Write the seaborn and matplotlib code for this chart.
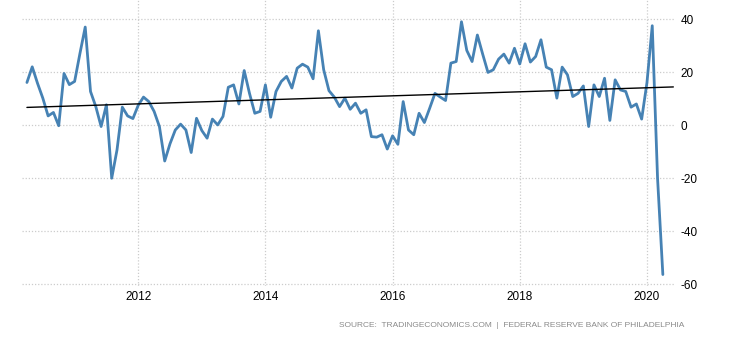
import numpy as np
import pandas as pd
import matplotlib
matplotlib.use("Agg")
import matplotlib.pyplot as plt
import seaborn as sns

# Philadelphia Fed manufacturing index, monthly, Apr 2010 - Apr 2020
start_month = "2010-04-01"
values = [
    16.1, 22.0, 15.8, 10.2, 3.5, 4.8, -0.2, 19.5, 15.3,            # 2010 Apr-Dec
    16.5, 27.0, 37.0, 12.7, 7.0, -0.5, 7.7, -20.0, -9.3, 6.8, 3.5, 2.5,   # 2011
    7.5, 10.6, 8.9, 5.2, -0.5, -13.5, -7.0, -1.8, 0.4, -1.8, -10.3, 2.6,  # 2012
    -2.0, -4.9, 2.3, 0.1, 3.3, 14.3, 15.2, 8.0, 20.6, 12.0, 4.5, 5.2,     # 2013
    15.2, 3.0, 12.7, 16.5, 18.4, 14.0, 21.5, 23.0, 21.9, 17.5, 35.6, 20.9, # 2014
    13.0, 10.6, 7.0, 10.2, 6.0, 8.3, 4.5, 5.8, -4.3, -4.5, -3.6, -9.0,    # 2015
    -4.0, -7.2, 8.9, -1.8, -3.6, 4.5, 1.0, 6.4, 12.0, 10.6, 9.3, 23.4,    # 2016
    24.0, 39.0, 28.2, 24.0, 34.0, 26.8, 19.9, 20.9, 24.9, 26.8, 23.4, 29.0, # 2017
    23.1, 30.7, 23.8, 25.9, 32.2, 21.9, 20.9, 10.2, 21.9, 19.0, 10.8, 12.0, # 2018
    14.8, -0.5, 15.2, 10.8, 17.7, 1.8, 17.1, 13.3, 12.7, 6.8, 8.0, 2.3,   # 2019
    16.0, 37.5, -20.0, -56.3,                                             # 2020 Jan-Apr
]
x_ticks = [2012, 2014, 2016, 2018, 2020]
y_ticks = [40, 20, 0, -20, -40, -60]
source_text = "SOURCE:  TRADINGECONOMICS.COM  |  FEDERAL RESERVE BANK OF PHILADELPHIA"

dates = pd.date_range(start_month, periods=len(values), freq="MS")
df = pd.DataFrame({
    "t": dates.year + (dates.month - 1) / 12.0,
    "value": values,
})

sns.set_theme(style="white")
plt.rcParams["font.family"] = ["Liberation Sans", "DejaVu Sans"]
plt.rcParams["axes.unicode_minus"] = False

fig = plt.figure(figsize=(7.3, 3.4), dpi=100)
ax = fig.add_axes([0.030, 0.159, 0.895, 0.841])

ax.set_xlim(2010.171, 2020.445)
ax.set_ylim(-60.6, 47.2)

sns.lineplot(data=df, x="t", y="value", ax=ax, color="#4682b4",
             linewidth=2.0, solid_joinstyle="round", solid_capstyle="round",
             zorder=3)

# linear trend of the series
slope, intercept = np.polyfit(df["t"], df["value"], 1)
tx = np.array([df["t"].iloc[0], ax.get_xlim()[1] - 0.03])
ax.plot(tx, slope * tx + intercept, color="black", linewidth=1.0, zorder=4)

ax.set_xticks(x_ticks)
ax.set_xticklabels([str(v) for v in x_ticks])
ax.set_yticks(y_ticks)
ax.set_yticklabels([str(v) for v in y_ticks])
ax.yaxis.tick_right()
ax.tick_params(axis="both", length=0, labelsize=8.5, colors="black")
ax.tick_params(axis="y", pad=4)
ax.tick_params(axis="x", pad=4)
ax.set_xlabel("")
ax.set_ylabel("")

ax.grid(True, color="#cccccc", linestyle=(0, (1, 1.5)), linewidth=0.9)
for s in ax.spines.values():
    s.set_visible(False)

fig.text(0.938, 0.044, source_text, ha="right", va="center",
         fontsize=6.0, color="#8a8a8a", family=["Liberation Sans", "DejaVu Sans"])

fig.savefig("out.png", dpi=100)
